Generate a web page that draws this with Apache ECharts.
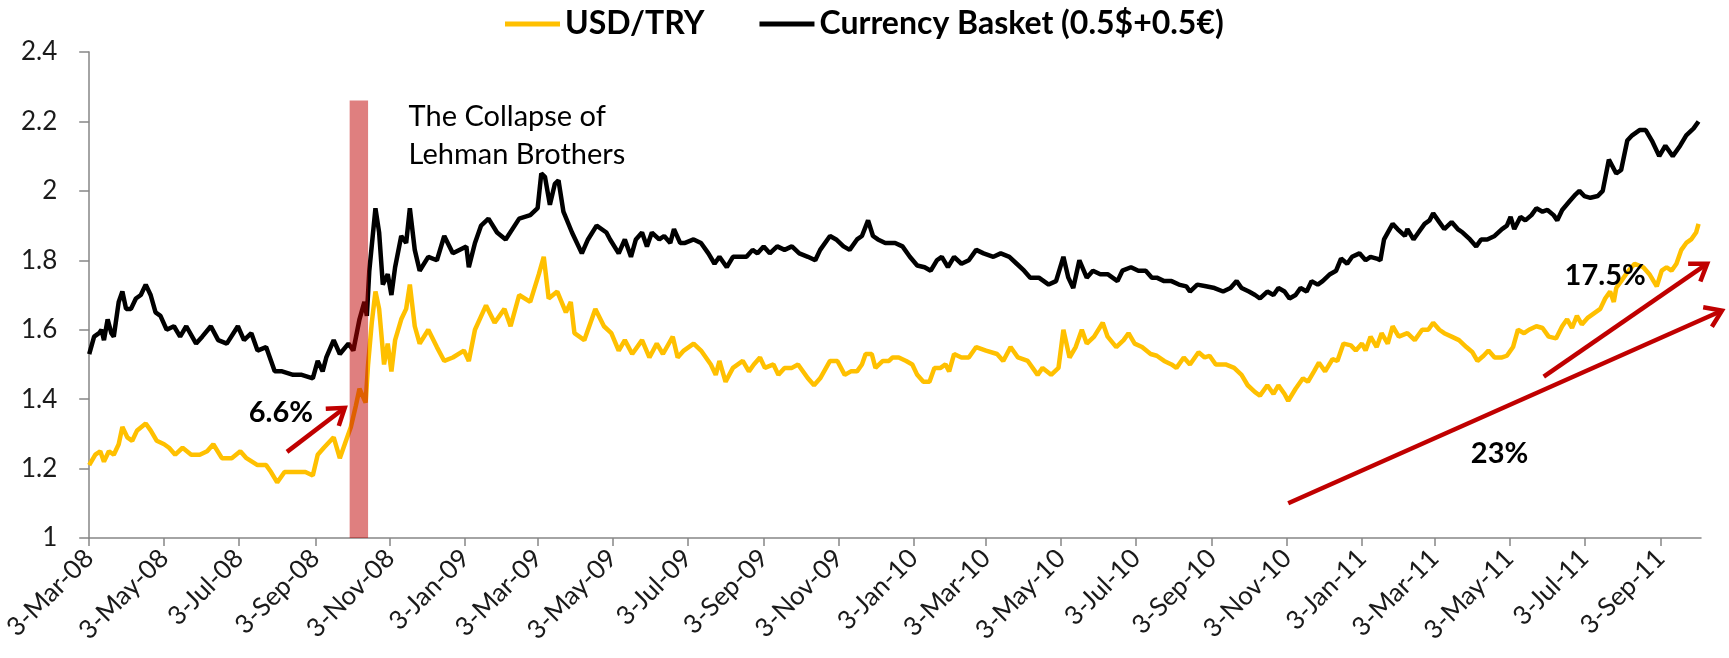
<!DOCTYPE html>
<html>
<head>
<meta charset="utf-8">
<script src="https://cdn.jsdelivr.net/npm/echarts@6/dist/echarts.min.js"></script>
<style>
  html, body { margin: 0; background: #fff; }
  #chart { width: 1729px; height: 658px; }
</style>
</head>
<body>
<div id="chart"></div>
<script>
// x values are days counted from 3-Mar-08
const startDate = Date.UTC(2008, 2, 3);
const dayCount = 1313;
const monthNames = ['Jan', 'Feb', 'Mar', 'Apr', 'May', 'Jun', 'Jul', 'Aug', 'Sep', 'Oct', 'Nov', 'Dec'];

const usdDay = [0, 5, 9, 12, 16, 20, 24, 27, 31, 35, 39, 46, 50, 55, 61, 65, 70, 76, 83, 90, 96, 101, 108, 116, 123, 128, 137, 144, 148, 153, 159, 165, 170, 176, 182, 186, 191, 199, 204, 209, 213, 217, 220, 225, 227, 230, 233, 236, 240, 243, 246, 249, 254, 258, 261, 265, 269, 276, 283, 289, 296, 305, 309, 314, 323, 330, 338, 343, 350, 359, 366, 370, 374, 381, 388, 392, 395, 403, 412, 419, 425, 431, 436, 442, 448, 450, 456, 462, 467, 475, 479, 484, 492, 498, 506, 510, 513, 518, 524, 532, 537, 541, 546, 550, 557, 561, 566, 572, 577, 585, 590, 595, 603, 609, 615, 620, 625, 629, 632, 637, 640, 646, 651, 654, 659, 665, 670, 674, 679, 684, 688, 693, 697, 700, 704, 710, 716, 722, 730, 739, 744, 750, 756, 764, 772, 776, 783, 789, 793, 798, 803, 808, 812, 818, 825, 829, 836, 842, 846, 851, 857, 864, 869, 875, 881, 885, 891, 896, 903, 908, 912, 917, 925, 932, 938, 943, 949, 953, 959, 964, 968, 973, 976, 982, 988, 992, 997, 1001, 1006, 1012, 1016, 1021, 1027, 1031, 1036, 1039, 1043, 1048, 1052, 1057, 1061, 1066, 1073, 1079, 1085, 1090, 1094, 1099, 1103, 1109, 1115, 1121, 1126, 1130, 1135, 1139, 1144, 1150, 1154, 1159, 1163, 1168, 1172, 1178, 1183, 1188, 1194, 1199, 1203, 1207, 1211, 1215, 1220, 1226, 1230, 1234, 1238, 1241, 1243, 1247, 1253, 1258, 1265, 1270, 1276, 1280, 1284, 1288, 1292, 1296, 1300, 1304, 1308, 1310];
const usdRate = [1.21, 1.24, 1.25, 1.22, 1.25, 1.24, 1.27, 1.32, 1.29, 1.28, 1.31, 1.33, 1.31, 1.28, 1.27, 1.26, 1.24, 1.26, 1.24, 1.24, 1.25, 1.27, 1.23, 1.23, 1.25, 1.23, 1.21, 1.21, 1.19, 1.16, 1.19, 1.19, 1.19, 1.19, 1.18, 1.24, 1.26, 1.29, 1.23, 1.28, 1.32, 1.38, 1.43, 1.39, 1.50, 1.62, 1.71, 1.66, 1.50, 1.56, 1.48, 1.57, 1.63, 1.66, 1.73, 1.61, 1.56, 1.60, 1.55, 1.51, 1.52, 1.54, 1.51, 1.60, 1.67, 1.62, 1.66, 1.61, 1.70, 1.68, 1.76, 1.81, 1.69, 1.71, 1.65, 1.68, 1.59, 1.57, 1.66, 1.61, 1.59, 1.54, 1.57, 1.53, 1.56, 1.57, 1.52, 1.56, 1.53, 1.58, 1.52, 1.54, 1.56, 1.54, 1.50, 1.47, 1.51, 1.45, 1.49, 1.51, 1.48, 1.50, 1.52, 1.49, 1.50, 1.47, 1.49, 1.49, 1.50, 1.46, 1.44, 1.46, 1.51, 1.51, 1.47, 1.48, 1.48, 1.50, 1.53, 1.53, 1.49, 1.51, 1.51, 1.52, 1.52, 1.51, 1.50, 1.47, 1.45, 1.45, 1.49, 1.49, 1.50, 1.48, 1.53, 1.52, 1.52, 1.55, 1.54, 1.53, 1.51, 1.55, 1.52, 1.51, 1.47, 1.49, 1.47, 1.49, 1.60, 1.52, 1.55, 1.60, 1.56, 1.58, 1.62, 1.58, 1.55, 1.57, 1.59, 1.56, 1.55, 1.53, 1.525, 1.51, 1.50, 1.49, 1.52, 1.50, 1.535, 1.52, 1.525, 1.50, 1.50, 1.49, 1.47, 1.44, 1.42, 1.41, 1.44, 1.415, 1.44, 1.415, 1.395, 1.43, 1.46, 1.45, 1.48, 1.505, 1.48, 1.515, 1.51, 1.56, 1.555, 1.54, 1.56, 1.54, 1.58, 1.55, 1.59, 1.56, 1.61, 1.58, 1.59, 1.57, 1.60, 1.60, 1.62, 1.60, 1.59, 1.58, 1.57, 1.55, 1.535, 1.51, 1.525, 1.54, 1.52, 1.52, 1.525, 1.55, 1.60, 1.59, 1.60, 1.61, 1.605, 1.58, 1.575, 1.61, 1.63, 1.605, 1.64, 1.615, 1.635, 1.65, 1.66, 1.69, 1.71, 1.68, 1.72, 1.74, 1.77, 1.79, 1.78, 1.76, 1.725, 1.77, 1.78, 1.77, 1.79, 1.83, 1.85, 1.86, 1.88, 1.905];

const basketDay = [0, 4, 8, 10, 12, 15, 18, 20, 24, 27, 30, 34, 38, 42, 46, 50, 54, 58, 63, 69, 74, 79, 87, 92, 99, 105, 112, 121, 126, 132, 137, 144, 151, 157, 166, 173, 182, 186, 190, 193, 199, 204, 211, 215, 220, 224, 226, 228, 233, 236, 239, 243, 246, 249, 254, 258, 261, 265, 269, 276, 283, 289, 296, 307, 309, 314, 319, 325, 332, 339, 350, 359, 365, 368, 371, 375, 379, 382, 386, 393, 401, 406, 413, 421, 424, 431, 436, 441, 445, 450, 454, 458, 464, 468, 473, 476, 481, 485, 492, 498, 504, 509, 513, 519, 524, 529, 535, 540, 544, 549, 554, 560, 566, 572, 578, 585, 591, 595, 603, 608, 614, 619, 625, 629, 634, 638, 642, 648, 656, 662, 668, 674, 680, 685, 690, 694, 699, 704, 710, 716, 722, 728, 736, 742, 749, 755, 761, 766, 773, 781, 787, 793, 797, 801, 806, 812, 817, 823, 829, 837, 841, 848, 854, 860, 865, 869, 875, 881, 887, 893, 896, 902, 909, 916, 923, 929, 934, 938, 944, 949, 953, 959, 964, 968, 973, 977, 982, 986, 991, 995, 1000, 1004, 1010, 1015, 1019, 1024, 1028, 1034, 1039, 1043, 1048, 1051, 1054, 1061, 1065, 1071, 1073, 1078, 1082, 1087, 1091, 1094, 1099, 1103, 1109, 1114, 1118, 1124, 1129, 1133, 1138, 1144, 1150, 1154, 1157, 1160, 1165, 1169, 1174, 1178, 1183, 1187, 1192, 1195, 1199, 1205, 1210, 1213, 1217, 1222, 1228, 1232, 1237, 1240, 1243, 1247, 1252, 1256, 1262, 1267, 1272, 1278, 1283, 1289, 1295, 1300, 1306, 1310];
const basketRate = [1.53, 1.58, 1.59, 1.60, 1.57, 1.63, 1.59, 1.58, 1.68, 1.71, 1.66, 1.66, 1.69, 1.70, 1.73, 1.70, 1.65, 1.64, 1.60, 1.61, 1.58, 1.61, 1.56, 1.58, 1.61, 1.57, 1.56, 1.61, 1.57, 1.59, 1.54, 1.55, 1.48, 1.48, 1.47, 1.47, 1.46, 1.51, 1.48, 1.52, 1.57, 1.53, 1.56, 1.54, 1.63, 1.68, 1.64, 1.77, 1.95, 1.88, 1.73, 1.76, 1.70, 1.78, 1.87, 1.85, 1.95, 1.83, 1.77, 1.81, 1.80, 1.87, 1.82, 1.84, 1.78, 1.85, 1.90, 1.92, 1.88, 1.86, 1.92, 1.93, 1.95, 2.05, 2.04, 1.96, 2.02, 2.03, 1.94, 1.88, 1.82, 1.86, 1.90, 1.88, 1.86, 1.82, 1.86, 1.81, 1.86, 1.88, 1.84, 1.88, 1.86, 1.87, 1.85, 1.89, 1.85, 1.85, 1.86, 1.85, 1.82, 1.79, 1.81, 1.78, 1.81, 1.81, 1.81, 1.83, 1.82, 1.84, 1.82, 1.84, 1.83, 1.84, 1.82, 1.81, 1.80, 1.83, 1.87, 1.86, 1.84, 1.83, 1.86, 1.87, 1.915, 1.87, 1.86, 1.85, 1.85, 1.84, 1.81, 1.785, 1.78, 1.77, 1.80, 1.81, 1.78, 1.81, 1.79, 1.80, 1.83, 1.82, 1.81, 1.82, 1.81, 1.79, 1.77, 1.75, 1.75, 1.73, 1.74, 1.81, 1.75, 1.72, 1.80, 1.75, 1.77, 1.76, 1.76, 1.74, 1.77, 1.78, 1.77, 1.77, 1.75, 1.75, 1.74, 1.74, 1.73, 1.725, 1.71, 1.73, 1.725, 1.72, 1.71, 1.72, 1.74, 1.72, 1.71, 1.70, 1.69, 1.71, 1.70, 1.72, 1.71, 1.69, 1.70, 1.72, 1.71, 1.74, 1.73, 1.74, 1.76, 1.77, 1.805, 1.79, 1.81, 1.82, 1.80, 1.81, 1.805, 1.80, 1.86, 1.905, 1.89, 1.87, 1.89, 1.86, 1.88, 1.905, 1.915, 1.935, 1.91, 1.89, 1.91, 1.89, 1.88, 1.86, 1.84, 1.86, 1.86, 1.87, 1.89, 1.90, 1.925, 1.89, 1.925, 1.915, 1.93, 1.95, 1.94, 1.945, 1.93, 1.915, 1.945, 1.97, 1.99, 2.00, 1.985, 1.98, 1.985, 2.00, 2.09, 2.07, 2.05, 2.06, 2.145, 2.16, 2.175, 2.175, 2.145, 2.10, 2.13, 2.10, 2.13, 2.16, 2.18, 2.20];

const yMin = 1;
const yMax = 2.4;
const yStep = 0.2;

// shaded band: [first day, last day, top value]
const lehmanBand = [212, 227, 2.26];
const lehmanNote = { text: 'The Collapse of\nLehman Brothers', at: [260, 2.16] };

const arrows = [
  { from: [161, 1.248], to: [208, 1.375] },
  { from: [1184, 1.465], to: [1317, 1.79] },
  { from: [976, 1.10], to: [1329, 1.655] }
];
const arrowNotes = [
  { text: '6.6%', at: [156, 1.36] },
  { text: '17.5%', at: [1234, 1.755] },
  { text: '23%', at: [1148, 1.242] }
];

const categories = [];
const isMajor = [];
for (let i = 0; i < dayCount; i++) {
  const d = new Date(startDate + i * 86400000);
  const m = d.getUTCMonth();
  categories.push(d.getUTCDate() + '-' + monthNames[m] + '-' + String(d.getUTCFullYear()).slice(2));
  isMajor.push(d.getUTCDate() === 3 && m % 2 === 0);
}

const pairs = (days, vals) => days.map((d, i) => [d, vals[i]]);
const font = 'Lato, "Noto Sans", sans-serif';
const red = '#C00000';

const chart = echarts.init(document.getElementById('chart'));
chart.setOption({
  animation: false,
  backgroundColor: '#fff',
  grid: { left: 85, right: 28, top: 52, bottom: 120, containLabel: false },
  legend: {
    top: 3,
    left: 500,
    data: ['USD/TRY', 'Currency Basket (0.5$+0.5€)'],
    icon: 'rect',
    itemWidth: 55,
    itemHeight: 5,
    itemGap: 55,
    textStyle: { fontFamily: font, fontSize: 32, fontWeight: 'bold', color: '#000' }
  },
  xAxis: {
    type: 'category',
    data: categories,
    boundaryGap: false,
    axisLine: { lineStyle: { color: '#868686', width: 1.5 } },
    axisTick: { interval: (i) => isMajor[i], length: 8, lineStyle: { color: '#868686', width: 1.5 } },
    axisLabel: {
      interval: (i) => isMajor[i],
      rotate: 45,
      margin: 16,
      fontFamily: font,
      fontSize: 26,
      color: '#1a1a1a'
    },
    splitLine: { show: false }
  },
  yAxis: {
    type: 'value',
    min: yMin,
    max: yMax,
    interval: yStep,
    axisLine: { show: true, lineStyle: { color: '#868686', width: 1.5 } },
    axisTick: { show: true, length: 10, lineStyle: { color: '#868686', width: 1.5 } },
    axisLabel: { margin: 32, fontFamily: font, fontSize: 26, color: '#1a1a1a' },
    splitLine: { show: false }
  },
  series: [
    {
      name: 'USD/TRY',
      type: 'line',
      data: pairs(usdDay, usdRate),
      showSymbol: false,
      color: '#FFC000',
      lineStyle: { width: 4.5, color: '#FFC000' },
      z: 2
    },
    {
      name: 'Currency Basket (0.5$+0.5€)',
      type: 'line',
      data: pairs(basketDay, basketRate),
      showSymbol: false,
      color: '#000',
      lineStyle: { width: 4.5, color: '#000' },
      z: 3
    },
    {
      name: 'Lehman',
      type: 'line',
      data: [],
      z: 8,
      markArea: {
        silent: true,
        z: 8,
        itemStyle: { color: 'rgba(192,0,0,0.5)' },
        data: [[{ coord: [lehmanBand[0], yMin] }, { coord: [lehmanBand[1], lehmanBand[2]] }]]
      }
    }
  ]
});

// annotations placed through the chart's own scales
const px = (p) => chart.convertToPixel({ gridIndex: 0 }, p);
const graphics = [];
arrows.forEach((a) => {
  const s = px(a.from);
  const t = px(a.to);
  const dx = t[0] - s[0];
  const dy = t[1] - s[1];
  const len = Math.hypot(dx, dy);
  const ux = dx / len;
  const uy = dy / len;
  const arm = 19;
  const ang = 0.6;
  const wing = (sign) => {
    const c = Math.cos(sign * ang);
    const sn = Math.sin(sign * ang);
    const rx = ux * c - uy * sn;
    const ry = ux * sn + uy * c;
    return [t[0] - rx * arm, t[1] - ry * arm];
  };
  graphics.push({
    type: 'polyline',
    shape: { points: [s, [t[0] - ux * 2, t[1] - uy * 2]] },
    style: { stroke: red, lineWidth: 4.5, fill: null },
    z: 10
  });
  graphics.push({
    type: 'polyline',
    shape: { points: [wing(1), t, wing(-1)] },
    style: { stroke: red, lineWidth: 4.5, fill: null, lineJoin: 'miter' },
    z: 10
  });
});
arrowNotes.forEach((n) => {
  const p = px(n.at);
  graphics.push({
    type: 'text',
    x: p[0],
    y: p[1],
    style: {
      text: n.text,
      fontFamily: font,
      fontSize: 29,
      fontWeight: 'bold',
      fill: '#000',
      align: 'center',
      verticalAlign: 'middle'
    },
    z: 11
  });
});
const lp = px(lehmanNote.at);
graphics.push({
  type: 'text',
  x: lp[0],
  y: lp[1],
  style: {
    text: lehmanNote.text,
    fontFamily: font,
    fontSize: 29,
    fill: '#000',
    align: 'left',
    verticalAlign: 'middle',
    lineHeight: 38
  },
  z: 11
});
chart.setOption({ graphic: graphics });
</script>
</body>
</html>
